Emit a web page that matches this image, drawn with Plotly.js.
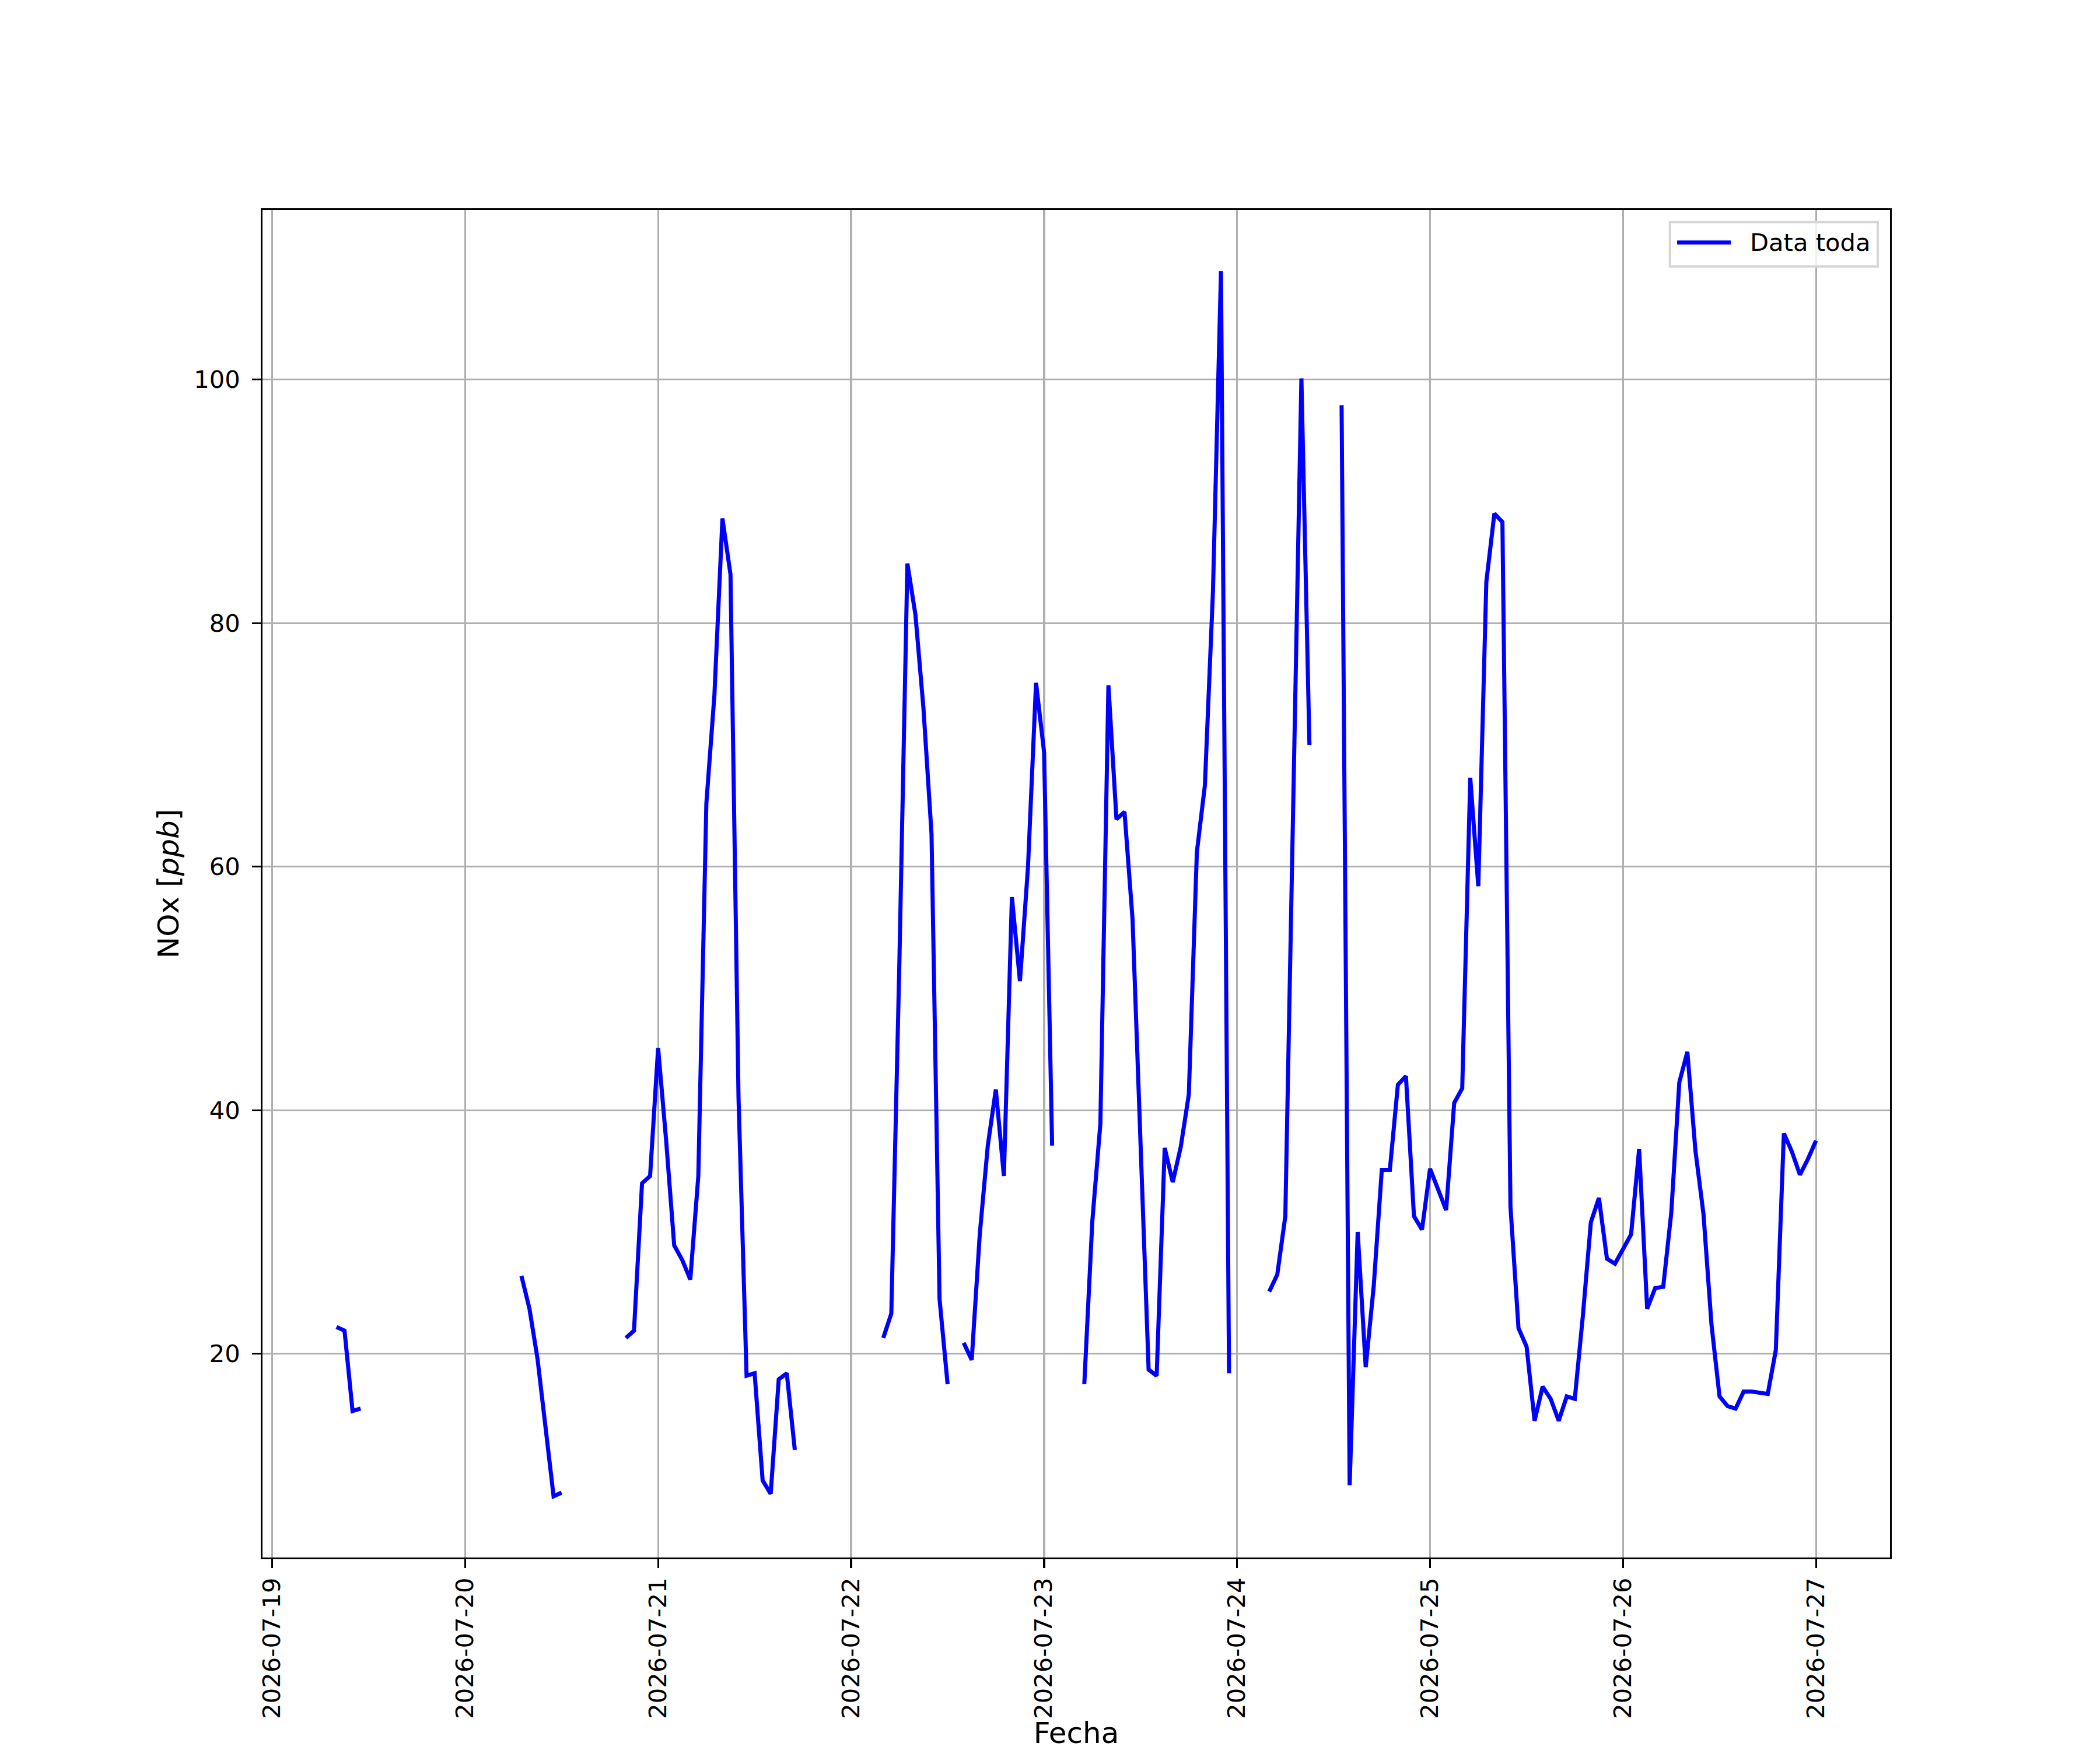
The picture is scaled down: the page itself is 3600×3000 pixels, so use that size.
<!DOCTYPE html>
<html>
<head>
<meta charset="utf-8">
<script src="https://cdn.plot.ly/plotly-3.0.1.min.js"></script>
<style>html,body{margin:0;padding:0;background:#fff;}#chart{width:3600px;height:3000px;}</style>
</head>
<body>
<div id="chart"></div>
<script>
// Hourly NOx series, first sample at 2026-07-19 08:00, null = missing hour
const startTime = '2026-07-19T08:00:00';
const day19 = [22.2, 21.9, 15.3, 15.5, null, null, null, null, null, null, null, null, null, null, null, null];
const day20 = [null, null, null, null, null, null, null, 26.4, 23.7, 19.6, 14.0, 8.3, 8.6, null, null, null, null, null, null, null, 21.3, 21.9, 34.0, 34.6];
const day21 = [45.1, 37.5, 28.9, 27.7, 26.1, 34.6, 65.2, 74.1, 88.6, 84.0, 41.0, 18.2, 18.4, 9.6, 8.5, 17.9, 18.4, 12.1, null, null, null, null, null, null];
const day22 = [null, null, null, null, 21.3, 23.3, 52.0, 84.9, 80.7, 73.0, 62.7, 24.5, 17.5, null, 20.9, 19.5, 29.8, 37.1, 41.7, 34.6, 57.5, 50.6, 60.0, 75.1];
const day23 = [69.4, 37.1, null, null, null, 17.5, 30.9, 38.9, 74.9, 63.9, 64.5, 55.7, 37.0, 18.7, 18.2, 36.9, 34.1, 37.0, 41.3, 61.2, 66.7, 82.6, 108.9, 18.4];
const day24 = [null, null, null, null, 25.1, 26.5, 31.3, 66.0, 100.1, 70.0, null, null, null, 97.9, 9.2, 30.0, 18.9, 25.6, 35.1, 35.1, 42.1, 42.8, 31.3, 30.2];
const day25 = [35.2, 33.5, 31.8, 40.6, 41.8, 67.3, 58.4, 83.4, 89.0, 88.3, 32.1, 22.1, 20.6, 14.5, 17.3, 16.3, 14.5, 16.5, 16.3, 23.1, 30.8, 32.8, 27.8, 27.4];
const day26 = [28.6, 29.8, 36.8, 23.7, 25.4, 25.5, 31.6, 42.3, 44.8, 36.7, 31.5, 22.4, 16.5, 15.7, 15.5, 16.9, 16.9, 16.8, 16.7, 20.3, 38.1, 36.6, 34.7, 36.0];
const day27 = [37.5];

const xTickLabelFormat = '%Y-%m-%d';
const seriesName = 'Data toda';
const xTitle = 'Fecha';
const yTitle = 'NOx [<i>ppb</i>]';

const values = [].concat(day19, day20, day21, day22, day23, day24, day25, day26, day27);
const t0 = Date.parse(startTime + 'Z');
const times = values.map((v, i) => new Date(t0 + i * 3600000).toISOString().slice(0, 19).replace('T', ' '));

const PT = 300 / 72;
const font = 'DejaVu Sans, Liberation Sans, sans-serif';

const trace = {
  x: times,
  y: values,
  type: 'scatter',
  mode: 'lines',
  name: seriesName,
  connectgaps: false,
  line: {color: '#0000ff', width: 7},
  showlegend: false
};

// data-driven axis limits with 5% margins (matplotlib style)
const nums = values.filter(v => v !== null);
const ymin = Math.min(...nums), ymax = Math.max(...nums);
const ypad = 0.05 * (ymax - ymin);
const tFirst = t0, tLast = t0 + (values.length - 1) * 3600000;
const tpad = 0.05 * (tLast - tFirst);
const fmt = ms => new Date(ms).toISOString().slice(0, 19).replace('T', ' ');

const axisCommon = {
  showline: true, mirror: true, linecolor: '#000', linewidth: 0.8 * PT,
  showgrid: true, gridcolor: '#b0b0b0', gridwidth: 0.8 * PT,
  zeroline: false,
  ticks: 'outside', ticklen: 3.5 * PT, tickwidth: 0.8 * PT, tickcolor: '#000',
  tickfont: {family: font, size: 10 * PT, color: '#000'},
  automargin: false
};

const layout = {
  width: 3600, height: 3000,
  paper_bgcolor: '#fff', plot_bgcolor: '#fff',
  margin: {l: 450, r: 360, t: 360, b: 330, pad: 0},
  font: {family: font, color: '#000'},
  showlegend: false,
  xaxis: Object.assign({}, axisCommon, {
    type: 'date',
    range: [fmt(tFirst - tpad), fmt(tLast + tpad)],
    tick0: '2026-07-19', dtick: 86400000,
    tickformat: xTickLabelFormat,
    tickangle: -90,
    ticklabelstandoff: 0,
    title: {text: xTitle, font: {family: font, size: 12 * PT, color: '#000'}, standoff: 16}
  }),
  yaxis: Object.assign({}, axisCommon, {
    range: [ymin - ypad, ymax + ypad],
    tick0: 0, dtick: 20,
    ticklabelstandoff: 12,
    title: {text: yTitle, font: {family: font, size: 12 * PT, color: '#000'}, standoff: 10}
  }),
  shapes: [
    {type: 'rect', xref: 'paper', yref: 'paper', x0: 0.8648, x1: 0.9925, y0: 0.9581, y1: 0.9910,
     line: {color: '#d6d6d6', width: 1.0 * PT}, fillcolor: 'rgba(255,255,255,0.8)', layer: 'above'},
    {type: 'line', xref: 'paper', yref: 'paper', x0: 0.8692, x1: 0.9022, y0: 0.9759, y1: 0.9759,
     line: {color: '#0000ff', width: 7}, layer: 'above'}
  ],
  annotations: [
    {xref: 'paper', yref: 'paper', x: 0.9133, y: 0.9759, xanchor: 'left', yanchor: 'middle',
     text: seriesName, showarrow: false, font: {family: font, size: 10 * PT, color: '#000'}}
  ]
};

Plotly.newPlot('chart', [trace], layout, {staticPlot: true, displayModeBar: false});
</script>
</body>
</html>
